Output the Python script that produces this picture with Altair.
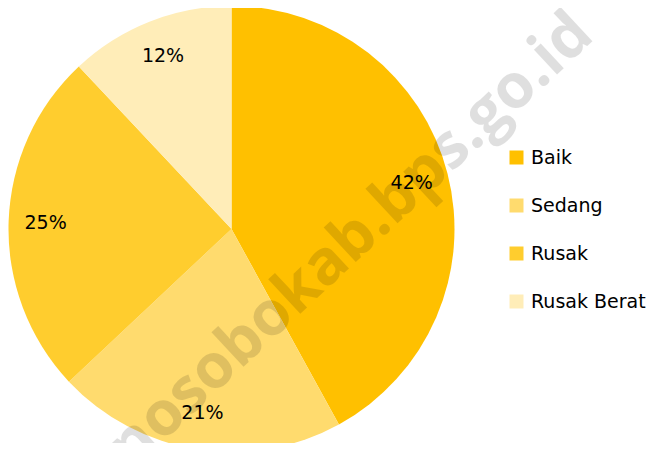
import altair as alt
import pandas as pd

categories = ["Baik", "Sedang", "Rusak", "Rusak Berat"]
values = [42, 21, 25, 12]
labels = ["42%", "21%", "25%", "12%"]
colors = ["#FFC000", "#FFDB6E", "#FFCD2E", "#FFEDB8"]

df = pd.DataFrame({
    "kategori": categories,
    "nilai": values,
    "label": labels,
    "urut": list(range(len(categories))),
})

CX, CY, R = 223.5, 221, 223
FONT = "DejaVu Sans"

base = alt.Chart(df).encode(
    theta=alt.Theta("nilai:Q", stack=True),
    order=alt.Order("urut:Q", sort="ascending"),
)

pie = base.mark_arc(outerRadius=R, stroke=None).encode(
    x=alt.value(CX),
    y=alt.value(CY),
    color=alt.Color(
        "kategori:N",
        sort=categories,
        scale=alt.Scale(domain=categories, range=colors),
        legend=alt.Legend(
            title=None,
            orient="none",
            legendX=499,
            legendY=140,
            symbolType="square",
            symbolSize=196,
            symbolStrokeWidth=0,
            labelFont=FONT,
            labelFontSize=19,
            labelColor="#000000",
            labelOffset=5,
            rowPadding=28,
            padding=0,
        ),
    ),
)

text = base.mark_text(radius=186, font=FONT, fontSize=19, color="#000000").encode(
    x=alt.value(CX),
    y=alt.value(CY),
    text="label:N",
)

watermark = alt.Chart(pd.DataFrame({"t": ["wonosobokab.bps.go.id"]})).mark_text(
    angle=317,
    align="right",
    baseline="alphabetic",
    font="Open Sans",
    fontWeight="bold",
    fontSize=62,
    color="#000000",
    opacity=0.12,
).encode(
    x=alt.value(588),
    y=alt.value(30),
    text="t:N",
)

chart = alt.layer(pie, text, watermark).properties(
    width=648,
    height=435,
    autosize=alt.AutoSizeParams(type="none"),
    padding=0,
).configure_view(stroke=None)

chart.save("out.html", embed_options={"renderer": "svg", "actions": False})
